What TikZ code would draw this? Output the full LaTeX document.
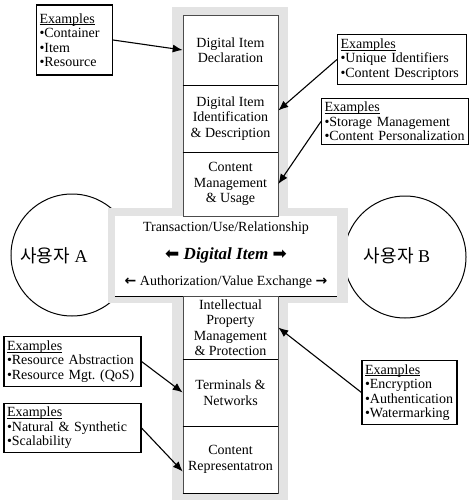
\documentclass[tikz,border=0pt]{standalone}
\usepackage{fontspec}
\setmainfont{Liberation Serif}
\newfontfamily\krfont{Noto Sans CJK KR}
\newfontfamily\arrowfont{DejaVu Sans}
\newcommand\exhead{\setbox0\hbox{Examples}\rlap{\rule[-2.2pt]{\wd0}{0.8pt}}\box0}
\frenchspacing
\usetikzlibrary{shapes.geometric, arrows.meta, positioning, calc}

\begin{document}
\begin{tikzpicture}[x=1pt, y=-1pt,
  part/.style={draw=black!70, line width=0.6pt, fill=white, minimum width=95pt, align=center, inner sep=0pt, font=\fontsize{14}{15.5}\selectfont},
  examples/.style={draw, line width=1.1pt, fill=white, align=left, inner xsep=3pt, inner ysep=4pt, font=\fontsize{14}{14.5}\selectfont},
  user/.style={draw, ellipse, line width=1pt, minimum width=122pt, minimum height=122pt},
  divider/.style={line width=1.3pt},
  pointer/.style={-{Latex[length=10pt,width=8pt]}, line width=1.1pt}]
\useasboundingbox (0,0) rectangle (469,503);

% users on both sides
\node[user] (userA) at (72,255) {};
\node[user] (userB) at (405,257) {};

% grey cross behind the parts
\fill[black!11] (172,7) rectangle (288,500);
\fill[black!11] (108,208) rectangle (348,303);

% Digital Item band
\node[fill=white, minimum width=222pt, minimum height=80pt, inner sep=0pt] (band) at (226,256) {};
\draw[line width=0.8pt] (band.south west) -- (band.south east);
\node[font=\fontsize{14}{16}\selectfont] (trans) at (226,228) {Transaction/Use/Relationship};
\node[font=\fontsize{17}{18}\selectfont] (item) at (226,255)
   {{\arrowfont ⬅} \textbf{\textit{Digital Item}} {\arrowfont ➡}};
\node[font=\fontsize{14}{16}\selectfont] (auth) at (226,282)
   {{\arrowfont\bfseries ←} Authorization/Value Exchange {\arrowfont\bfseries →}};

% user labels
\node[font=\fontsize{18}{20}\selectfont] (userAlabel) at (54,256) {{\krfont 사용자} A};
\node[font=\fontsize{18}{20}\selectfont] (userBlabel) at (397,256) {{\krfont 사용자} B};

% MPEG-21 parts
\node[part, minimum height=70pt] (decl) at (230.5,50) {Digital Item\\Declaration};
\node[part, minimum height=67pt] (ident) at (230.5,118.5) {Digital Item\\Identification\\\& Description};
\node[part, minimum height=64pt] (cmu) at (230.5,184) {Content\\Management\\\& Usage};
\node[part, minimum height=63pt] (ipmp) at (230.5,327.5) {Intellectual\\Property\\Management\\\& Protection};
\node[part, minimum height=67pt] (term) at (230.5,392.5) {Terminals \&\\Networks};
\node[part, minimum height=67pt] (repr) at (230.5,459.5) {Content\\Representatron};

\draw[divider] (decl.south west) -- (decl.south east);
\draw[divider] (ident.south west) -- (ident.south east);
\draw[divider] (ipmp.south west) -- (ipmp.south east);
\draw[divider] (term.south west) -- (term.south east);
\draw[divider] (repr.south west) -- (repr.south east);

% examples
\node[examples, text width=70pt, minimum height=70pt] (exdecl) at (74.5,40)
   {\exhead\\•Container\\•Item\\•Resource};
\node[examples, text width=123pt] (exident) at (402,59.5)
   {\exhead\\•Unique Identifiers\\•Content Descriptors};
\node[examples, text width=141pt] (excmu) at (395,121.5)
   {\exhead\\•Storage Management\\•Content Personalization};
\node[examples, text width=131pt] (exterm) at (72.5,361.5)
   {\exhead\\•Resource Abstraction\\•Resource Mgt. (QoS)};
\node[examples, text width=131pt] (exrepr) at (72.5,428)
   {\exhead\\•Natural \& Synthetic\\•Scalability};
\node[examples, text width=89pt] (exipmp) at (409.5,392.5)
   {\exhead\\•Encryption\\•Authentication\\•Watermarking};

\draw[pointer] (exdecl.east) -- (decl.west);
\draw[pointer] (exident.west) -- ([yshift=8pt]ident.east);
\draw[pointer] (excmu.west) -- (cmu.east);
\draw[pointer] (exterm.east) -- (term.west);
\draw[pointer] (exrepr.east) -- ([yshift=-12pt]repr.west);
\draw[pointer] (exipmp.west) -- (ipmp.east);
\end{tikzpicture}
\end{document}
